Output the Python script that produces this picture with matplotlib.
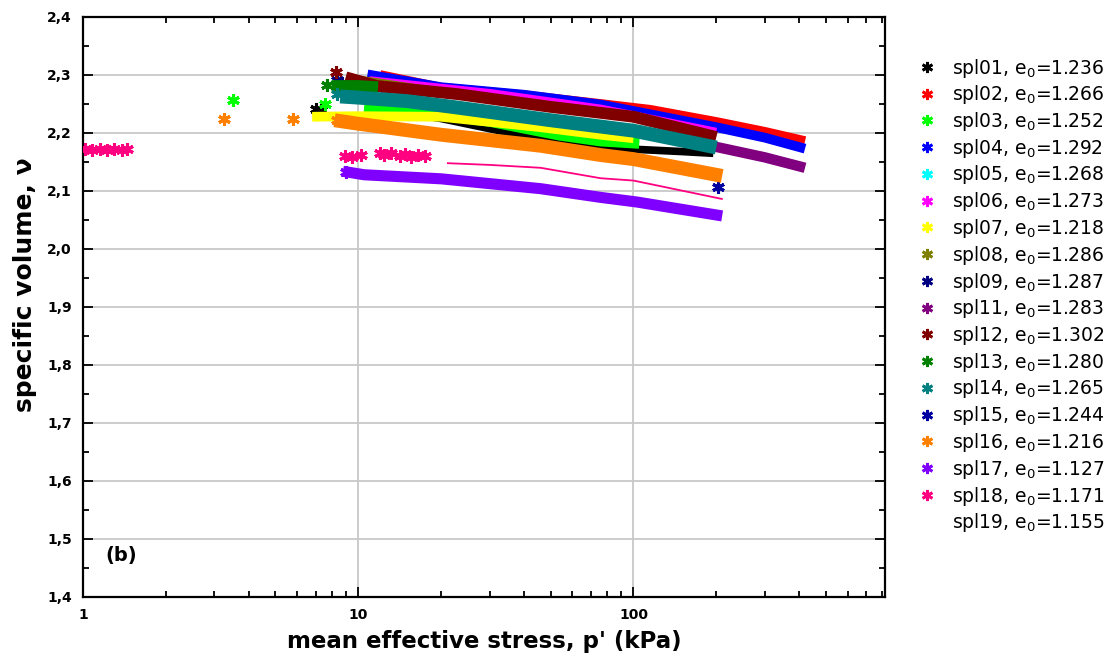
import matplotlib
matplotlib.use('Agg')
import matplotlib.pyplot as plt
from matplotlib.lines import Line2D
from matplotlib.ticker import FixedLocator, LogLocator, FuncFormatter, MultipleLocator, NullFormatter

# sample names, initial void ratio, colour
names = ['spl01', 'spl02', 'spl03', 'spl04', 'spl05', 'spl06', 'spl07', 'spl08', 'spl09',
         'spl11', 'spl12', 'spl13', 'spl14', 'spl15', 'spl16', 'spl17', 'spl18', 'spl19']
e0 = ['1.236', '1.266', '1.252', '1.292', '1.268', '1.273', '1.218', '1.286', '1.287',
      '1.283', '1.302', '1.280', '1.265', '1.244', '1.216', '1.127', '1.171', '1.155']
colors = ['#000000', '#ff0000', '#00ff00', '#0000ff', '#00ffff', '#ff00ff', '#ffff00', '#808000',
          '#000080', '#800080', '#800000', '#008000', '#008080', '#0000a0', '#ff8000', '#8000ff',
          '#ff0080', '#ffffff']

# compression band of each test: p' (kPa) and specific volume
band_p = {
    'spl01': [11, 20, 40, 75, 100, 150, 195],
    'spl02': [12, 20, 40, 76, 115, 200, 300, 420],
    'spl03': [10.5, 20, 30, 54, 76, 105],
    'spl04': [10.8, 20, 40, 76, 200, 300, 420],
    'spl05': [10, 30, 100, 200],
    'spl06': [11, 30, 76, 200],
    'spl07': [6.8, 10, 20, 46, 76, 100],
    'spl08': [10.2, 20, 50, 100, 200],
    'spl09': [],
    'spl11': [12, 22, 50, 100, 200, 300, 420],
    'spl12': [9, 11.7, 23, 50, 100, 200],
    'spl13': [8, 10, 11.8],
    'spl14': [8.6, 10, 15, 22, 50, 100, 200],
    'spl15': [],
    'spl16': [8.2, 10, 20, 46, 76, 100, 210],
    'spl17': [8.8, 10.5, 20, 46, 76, 103, 210],
    'spl18': [21, 30, 46, 76, 100, 211],
    'spl19': [],
}
band_v = {
    'spl01': [2.244, 2.225, 2.195, 2.176, 2.172, 2.168, 2.165],
    'spl02': [2.300, 2.278, 2.265, 2.250, 2.240, 2.219, 2.202, 2.186],
    'spl03': [2.244, 2.232, 2.221, 2.197, 2.187, 2.183],
    'spl04': [2.301, 2.279, 2.266, 2.249, 2.210, 2.192, 2.173],
    'spl05': [2.260, 2.235, 2.205, 2.176],
    'spl06': [2.292, 2.270, 2.243, 2.203],
    'spl07': [2.228, 2.229, 2.228, 2.210, 2.197, 2.191],
    'spl08': [2.294, 2.273, 2.250, 2.232, 2.197],
    'spl09': [],
    'spl11': [2.262, 2.245, 2.222, 2.205, 2.176, 2.158, 2.140],
    'spl12': [2.296, 2.281, 2.267, 2.245, 2.228, 2.193],
    'spl13': [2.281, 2.281, 2.279],
    'spl14': [2.263, 2.261, 2.255, 2.245, 2.222, 2.204, 2.175],
    'spl15': [],
    'spl16': [2.222, 2.216, 2.197, 2.178, 2.162, 2.155, 2.126],
    'spl17': [2.134, 2.128, 2.121, 2.104, 2.089, 2.081, 2.057],
    'spl18': [2.148, 2.145, 2.140, 2.122, 2.118, 2.086],
    'spl19': [],
}
band_w = [5.5, 7, 8.5, 7, 6, 5, 7, 4, 1, 7.5, 8.5, 8.5, 10, 1, 10, 8, 1.3, 1]

# isolated readings
pt_p = {
    'spl01': [7.0, 7.3],
    'spl03': [3.5, 7.6],
    'spl09': [8.4, 8.7],
    'spl12': [8.3],
    'spl13': [7.7],
    'spl14': [8.4],
    'spl15': [203],
    'spl16': [3.25, 5.8, 8.4, 9.0],
    'spl17': [9.0],
    'spl18': [1.02, 1.08, 1.15, 1.22, 1.3, 1.38, 1.45,
              8.97, 9.5, 10.2, 12.0, 12.4, 13.2, 14.2, 14.8, 15.5, 16.5, 17.5],
}
pt_v = {
    'spl01': [2.242, 2.240],
    'spl03': [2.257, 2.250],
    'spl09': [2.292, 2.286],
    'spl12': [2.305],
    'spl13': [2.282],
    'spl14': [2.268],
    'spl15': [2.107],
    'spl16': [2.224, 2.224, 2.222, 2.220],
    'spl17': [2.133],
    'spl18': [2.172, 2.170, 2.173, 2.171, 2.172, 2.170, 2.172,
              2.160, 2.158, 2.162, 2.166, 2.162, 2.165, 2.160, 2.163, 2.158, 2.162, 2.161],
}

ast = (6, 2, 0)

fig = plt.figure(figsize=(11.17, 6.61), dpi=100)
ax = fig.add_axes([83 / 1117, 64 / 661, 802 / 1117, 580 / 661])

for i, n in enumerate(names):
    c = colors[i]
    if band_p[n]:
        ax.plot(band_p[n], band_v[n], color=c, lw=band_w[i], solid_capstyle='butt', zorder=3)
    if n in pt_p:
        ax.plot(pt_p[n], pt_v[n], ls='none', color=c, marker=ast, ms=9, mew=2.2, zorder=3)

ax.set_xscale('log')
ax.set_xlim(1, 820)
ax.set_ylim(1.4, 2.4)

ax.xaxis.set_major_locator(FixedLocator([1, 10, 100]))
ax.xaxis.set_major_formatter(FuncFormatter(lambda x, pos: f'{x:g}'))
ax.xaxis.set_minor_locator(LogLocator(base=10, subs=range(2, 10)))
ax.xaxis.set_minor_formatter(NullFormatter())
ax.yaxis.set_major_locator(MultipleLocator(0.1))
ax.yaxis.set_minor_locator(MultipleLocator(0.05))
ax.yaxis.set_major_formatter(FuncFormatter(lambda v, pos: f'{v:.1f}'.replace('.', ',')))

ax.tick_params(which='both', direction='in', top=True, right=True, width=1.3)
ax.tick_params(which='major', length=7, labelsize=10, pad=8)
ax.tick_params(which='minor', length=4)
for lab in ax.get_xticklabels() + ax.get_yticklabels():
    lab.set_fontweight('bold')
for s in ax.spines.values():
    s.set_linewidth(1.6)

ax.grid(True, which='major', color='#c8c8c8', lw=1.3, zorder=0)
ax.set_axisbelow(True)

ax.set_xlabel("mean effective stress, p' (kPa)", fontsize=16.5, fontweight='bold', labelpad=6)
ax.set_ylabel('specific volume, ν', fontsize=18, fontweight='bold')
ax.yaxis.set_label_coords(-0.057, 0.538)
ax.text(0.028, 0.072, '(b)', transform=ax.transAxes, fontsize=14, fontweight='bold',
        va='center', ha='left')

handles = [Line2D([], [], ls='none', marker=ast, ms=8, mew=2, color=c) for c in colors]
labels = [f'{n}, e$_0$={e}' for n, e in zip(names, e0)]
fig.legend(handles, labels, loc='upper left', bbox_to_anchor=(908 / 1117, 1 - 49 / 661),
           frameon=False, fontsize=13.5, handlelength=1.2, handletextpad=0.75,
           labelspacing=0.2, borderaxespad=0)

fig.savefig('out.png', dpi=100)
